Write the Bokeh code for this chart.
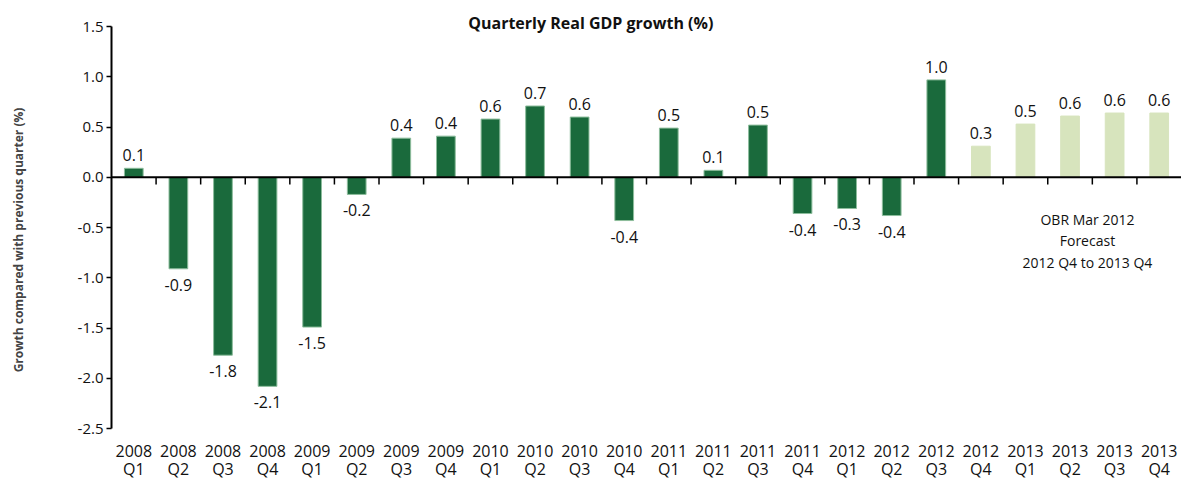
from bokeh.plotting import figure
from bokeh.models import ColumnDataSource, Span, Label, FixedTicker
from bokeh.core.properties import value
from bokeh.embed import file_html
from bokeh.resources import INLINE

years = ["2008"] * 4 + ["2009"] * 4 + ["2010"] * 4 + ["2011"] * 4 + ["2012"] * 4 + ["2013"] * 4
quarters = ["Q1", "Q2", "Q3", "Q4"] * 6
growth = [0.09, -0.91, -1.77, -2.08,
          -1.49, -0.17, 0.39, 0.41,
          0.58, 0.71, 0.60, -0.43,
          0.49, 0.07, 0.52, -0.36,
          -0.31, -0.38, 0.97,
          0.31, 0.53, 0.61, 0.64, 0.64]
n_actual = 19  # 2008 Q1 .. 2012 Q3 are outturns, the rest is forecast
y_ticks = [-2.5, -2.0, -1.5, -1.0, -0.5, 0.0, 0.5, 1.0, 1.5]
note_lines = ["OBR Mar 2012", "Forecast", "2012 Q4 to 2013 Q4"]

FONT = "Open Sans"
DARK = "#1a6a3c"
LIGHT = "#d7e4bd"
INK = "#111111"

x = list(range(len(growth)))
colors = [DARK if i < n_actual else LIGHT for i in x]
edges = ["#8dbd9c" if i < n_actual else LIGHT for i in x]
labels = [f"{v:.1f}" for v in growth]

pos = [i for i in x if growth[i] >= 0]
neg = [i for i in x if growth[i] < 0]

src = ColumnDataSource(dict(x=x, top=growth, color=colors, edge=edges))
src_pos = ColumnDataSource(dict(x=pos, y=[growth[i] for i in pos], t=[labels[i] for i in pos]))
src_neg = ColumnDataSource(dict(x=neg, y=[growth[i] for i in neg], t=[labels[i] for i in neg]))

y_lo, y_hi = y_ticks[0], y_ticks[-1]
top_pad = 0.26     # room above the axis for the title
bottom_pad = 0.507  # room below the axis for the category labels

p = figure(width=1181, height=479, output_backend="svg", toolbar_location=None,
           x_range=(-0.5, len(growth) - 0.5), y_range=(y_lo - bottom_pad, y_hi + top_pad),
           min_border_left=111, min_border_right=0, min_border_top=0, min_border_bottom=0)
p.outline_line_color = None
p.grid.visible = False
p.background_fill_color = "white"
p.xaxis.visible = False

p.vbar(x="x", top="top", bottom=0, width=0.42, fill_color="color", line_color="edge",
       line_width=1, source=src)

# zero line with category tick marks
p.add_layout(Span(location=0, dimension="width", line_color="black", line_width=2))
bounds = [i + 0.5 for i in x[:-1]]
p.segment(x0=bounds, x1=bounds, y0=[0] * len(bounds), y1=[-0.07] * len(bounds),
          line_color="black", line_width=1.5)

# data labels
p.text(x="x", y="y", text="t", source=src_pos, text_align="center", text_baseline="bottom",
       y_offset=-7, text_font=value(FONT), text_font_size="16px", text_color=INK)
p.text(x="x", y="y", text="t", source=src_neg, text_align="center", text_baseline="top",
       y_offset=10, text_font=value(FONT), text_font_size="16px", text_color=INK)

# category labels (two rows) under the plot
p.text(x=x, y=[y_lo] * len(x), text=years, text_align="center", text_baseline="middle",
       y_offset=22, text_font=value(FONT), text_font_size="16px", text_color=INK)
p.text(x=x, y=[y_lo] * len(x), text=quarters, text_align="center", text_baseline="middle",
       y_offset=40, text_font=value(FONT), text_font_size="16px", text_color=INK)

# y axis
ya = p.yaxis[0]
ya.ticker = FixedTicker(ticks=y_ticks)
ya.bounds = (y_lo, y_hi)
ya.major_label_overrides = {t: f"{t:.1f}" for t in y_ticks}
ya.minor_tick_line_color = None
ya.major_tick_in = 0
ya.major_tick_out = 5
ya.major_tick_line_width = 1.5
ya.axis_line_width = 2
ya.axis_line_color = "black"
ya.major_label_standoff = 3
ya.major_label_text_font = FONT
ya.major_label_text_font_size = "15px"
ya.major_label_text_color = INK
ya.axis_label = "Growth compared with previous quarter (%)"
ya.axis_label_text_font = FONT
ya.axis_label_text_font_style = "bold"
ya.axis_label_text_font_size = "12px"
ya.axis_label_standoff = 48

# title
p.add_layout(Label(x=10.25, y=y_hi + 0.04, text="Quarterly Real GDP growth (%)", text_align="center",
                   text_baseline="middle", text_font=FONT, text_font_style="bold",
                   text_font_size="16px", text_color=INK))

# forecast note
for k, line in enumerate(note_lines):
    p.add_layout(Label(x=21.39, y=-0.63, y_offset=(1 - k) * 21.5, text=line,
                       text_align="center", text_baseline="middle", text_font=FONT,
                       text_font_size="14px", text_color=INK))

open("out.html", "w").write(file_html(p, INLINE))
